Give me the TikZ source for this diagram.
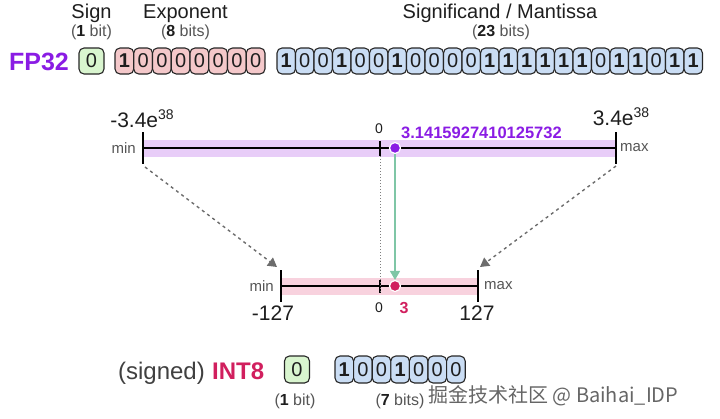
\documentclass[tikz,border=0pt]{standalone}
\usepackage{fontspec}
\setmainfont{Liberation Sans}
\newfontfamily\cjkfont{Noto Sans CJK SC}
\usetikzlibrary{arrows.meta}
\definecolor{fpPurple}{HTML}{8A1CE4}
\definecolor{intRed}{HTML}{D11F5E}
\definecolor{bandP}{HTML}{E8CDF8}
\definecolor{bandR}{HTML}{F8D2DE}
\definecolor{signGreen}{HTML}{D9F5CF}
\definecolor{expPink}{HTML}{F4C8CA}
\definecolor{manBlue}{HTML}{CADDF4}
\definecolor{cellLine}{HTML}{262626}
\definecolor{arrGreen}{HTML}{7FC6A6}
\definecolor{txtDark}{HTML}{1E1E1E}
\definecolor{txtGray}{HTML}{555555}
\newcommand{\fsz}[1]{\fontsize{#1}{#1}\selectfont}
\newcommand{\bitc}[1]{\ifnum#1=1 \textbf{1}\else 0\fi}
\begin{document}
\begin{tikzpicture}[x=1pt,y=-1pt,
  cell/.style={draw=cellLine, line width=1.1pt, rounded corners=5pt, minimum width=18.5pt,
    minimum height=26pt, inner sep=0pt, outer sep=0pt, font=\fsz{20}, text=txtDark},
  signcell/.style={cell, fill=signGreen, minimum width=25pt},
  expcell/.style={cell, fill=expPink, minimum width=18.75pt},
  mancell/.style={cell, fill=manBlue},
  hdr/.style={anchor=base, inner sep=0pt, font=\fsz{20}, text=txtDark},
  sub/.style={anchor=base, inner sep=0pt, font=\fsz{16}, text=txtGray},
  lbl/.style={inner sep=0pt, font=\fsz{15}, text=txtGray},
  big/.style={anchor=base, inner sep=0pt, font=\fsz{21}, text=txtDark},
  zero/.style={anchor=base, inner sep=0pt, font=\fsz{14}, text=txtDark},
  axis/.style={line width=1.3pt, draw=black},
  tickmark/.style={line width=1.6pt, draw=black},
  dotP/.style={circle, fill=fpPurple, draw=white, line width=1.2pt, minimum size=11pt, inner sep=0pt},
  dotR/.style={circle, fill=intRed, draw=white, line width=1.2pt, minimum size=11pt, inner sep=0pt},
  dasharr/.style={draw=gray!85!black, line width=1.4pt, dash pattern=on 3pt off 3.5pt,
    -{Triangle[length=9pt,width=10pt]}},
  greenarr/.style={draw=arrGreen, line width=1.4pt, -{Triangle[length=9pt,width=10pt]}},
]
\useasboundingbox (0,0) rectangle (720,418);

% ---------- headers ----------
\node[hdr] (hSign) at (91.5,18) {Sign};
\node[sub] (hSignB) at (91.5,36) {(\textbf{\color{txtDark}1} bit)};
\node[hdr] (hExp) at (185.5,18) {Exponent};
\node[sub] (hExpB) at (185.5,36) {(\textbf{\color{txtDark}8} bits)};
\node[hdr] (hMan) at (500,18) {Significand / Mantissa};
\node[sub] (hManB) at (501,36) {(\textbf{\color{txtDark}23} bits)};

% ---------- FP32 row ----------
\node[anchor=base, inner sep=0pt, font=\fsz{25}\bfseries, text=fpPurple] (fp32) at (39,70) {FP32};
\node[signcell] (s0) at (91.5,61) {0};
\foreach \b [count=\i from 0] in {1,0,0,0,0,0,0,0}
  \node[expcell] (e\i) at ({124.375+18.75*\i},61) {\bitc{\b}};
\foreach \b [count=\i from 0] in {1,0,0,1,0,0,1,0,0,0,0,1,1,1,1,1,1,0,1,1,0,1,1}
  \node[mancell] (m\i) at ({286.25+18.5*\i},61) {\bitc{\b}};

% ---------- FP32 axis ----------
\fill[bandP] (143,140) rectangle (616,157);
\coordinate (tL) at (143,148);
\coordinate (tR) at (616,148);
\coordinate (tZtop) at (380,141);
\coordinate (tZbot) at (380,156);
\draw[axis] (tL) -- (tR);
\draw[tickmark] (143,132) -- (143,164);
\draw[tickmark] (616,132) -- (616,164);
\draw[tickmark] (tZtop) -- (tZbot);
\node[lbl, anchor=east] (tMin) at (136,148) {min};
\node[lbl, anchor=west] (tMax) at (620,148) {max};
\node[big] (tMinV) at (142,127) {-3.4e\raisebox{8pt}{\fsz{14}38}};
\node[big] (tMaxV) at (621,125) {3.4e\raisebox{8pt}{\fsz{14}38}};
\node[zero] (tZero) at (379,133) {0};
\node[anchor=base west, inner sep=0pt, font=\fsz{16.5}\bfseries, text=fpPurple] (piV) at (401,138) {3.1415927410125732};

% ---------- INT8 axis ----------
\fill[bandR] (281,278) rectangle (478,295);
\coordinate (bL) at (281,286);
\coordinate (bR) at (478,286);
\draw[axis] (bL) -- (bR);
\draw[tickmark] (281,270) -- (281,302);
\draw[tickmark] (478,270) -- (478,302);
\draw[tickmark] (380,280) -- (380,293);
\node[lbl, anchor=east] (bMin) at (274,286) {min};
\node[lbl, anchor=west] (bMax) at (484,286) {max};
\node[big] (bMinV) at (273,320) {-127};
\node[big] (bMaxV) at (477,320) {127};
\node[zero] (bZero) at (379,312) {0};
\node[anchor=base, inner sep=0pt, font=\fsz{16}\bfseries, text=intRed] (threeV) at (404,313) {3};

% ---------- dots & arrows ----------
\draw[gray, line width=1pt, dotted] (tZbot) -- (380,292);
\node[dotR] (rd) at (395,286) {};
\node[dotP] (pd) at (395,148) {};
\draw[greenarr] (pd) -- (rd);
\coordinate (aLs) at (145,167);
\coordinate (aLe) at (277,267);
\coordinate (aRs) at (616,166);
\coordinate (aRe) at (480,267);
\draw[dasharr] (aLs) -- (aLe);
\draw[dasharr] (aRs) -- (aRe);

% ---------- INT8 row ----------
\node[anchor=base east, inner sep=0pt, font=\fsz{24}, text=txtDark!85] (signed) at (205,379) {(signed)};
\node[anchor=base west, inner sep=0pt, font=\fsz{24}\bfseries, text=intRed] (int8) at (212,379) {INT8};
\node[signcell, minimum height=27pt] (is0) at (297,369.5) {0};
\foreach \b [count=\i from 0] in {1,0,0,1,0,0,0}
  \node[mancell, minimum width=18.6pt, minimum height=27pt] (ib\i) at ({344.3+18.6*\i},369.5) {\bitc{\b}};
\node[sub] (iSignB) at (295,405) {(\textbf{\color{txtDark}1} bit)};
\node[sub] (iBitsB) at (400,405) {(\textbf{\color{txtDark}7} bits)};

% ---------- watermark ----------
\node[anchor=base west, inner sep=0pt, font=\cjkfont\fsz{20}, text=gray!80!black] (wm) at (428,402) {掘金技术社区 @ Baihai\_IDP};
\end{tikzpicture}
\end{document}
